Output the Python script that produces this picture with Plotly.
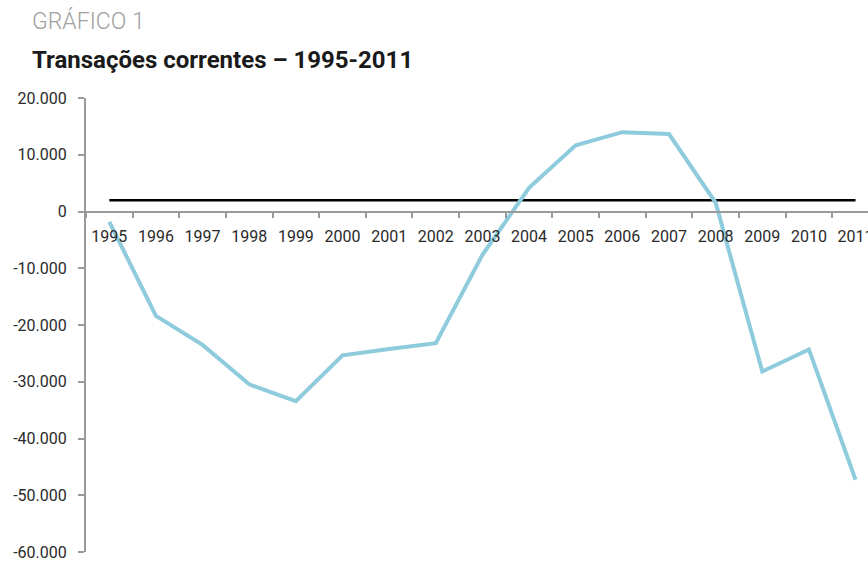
import plotly.graph_objects as go

years = ["1995", "1996", "1997", "1998", "1999", "2000", "2001", "2002", "2003",
         "2004", "2005", "2006", "2007", "2008", "2009", "2010", "2011"]
transacoes = [-1811, -18384, -23502, -30452, -33416, -25335, -24225, -23215, -7637,
              4177, 11679, 13985, 13643, 1551, -28192, -24302, -47273]
linha_ref = [2000, 2000, 2000, 2000, 2000, 2000, 2000, 2000, 2000,
             2000, 2000, 2000, 2000, 2000, 2000, 2000, 2000]
y_tickvals = [20000, 10000, 0, -10000, -20000, -30000, -40000, -50000, -60000]
y_ticktext = ["20.000", "10.000", "0", "-10.000", "-20.000", "-30.000", "-40.000", "-50.000", "-60.000"]

FONT = "Roboto, sans-serif"
TICKFONT = dict(family=FONT, size=16, color="#2a2a2a")

fig = go.Figure()
fig.add_trace(go.Scatter(x=years, y=linha_ref, mode="lines",
                         line=dict(color="#000000", width=2.5), showlegend=False))
fig.add_trace(go.Scatter(x=years, y=transacoes, mode="lines",
                         line=dict(color="#8ECBDC", width=4), showlegend=False))

fig.update_layout(
    width=868, height=561,
    margin=dict(l=86, r=0, t=98, b=9, autoexpand=False),
    paper_bgcolor="white", plot_bgcolor="white",
    font=dict(family=FONT, size=16, color="#2a2a2a"),
    xaxis=dict(type="category", range=[-0.5, 16.267], anchor="free", position=0.75,
               automargin=False, tickangle=0,
               showline=True, linecolor="#9a9a9a", linewidth=1.5,
               ticks="outside", tickson="boundaries", ticklen=6, tickwidth=1.5,
               tickcolor="#9a9a9a", showgrid=False, zeroline=False,
               ticklabelstandoff=11, tickfont=TICKFONT),
    yaxis=dict(range=[-60000, 20000], tickvals=y_tickvals, ticktext=y_ticktext,
               automargin=False,
               showline=True, linecolor="#9a9a9a", linewidth=2,
               ticks="outside", ticklen=6, tickwidth=1.5, tickcolor="#9a9a9a",
               showgrid=False, zeroline=False, ticklabelstandoff=8,
               ticklabeloverflow="allow", tickfont=TICKFONT),
    annotations=[
        dict(text="GRÁFICO 1", xref="paper", yref="paper",
             x=(30 - 86) / 782, y=(552 - 21) / 454, xanchor="left", yanchor="middle",
             showarrow=False, font=dict(family=FONT, size=23, color="#a0a0a0", weight=300)),
        dict(text="<b>Transações correntes – 1995-2011</b>", xref="paper", yref="paper",
             x=(30 - 86) / 782, y=(552 - 60) / 454, xanchor="left", yanchor="middle",
             showarrow=False, font=dict(family=FONT, size=24, color="#1a1a1a")),
    ],
)

fig.write_html("out.html")
